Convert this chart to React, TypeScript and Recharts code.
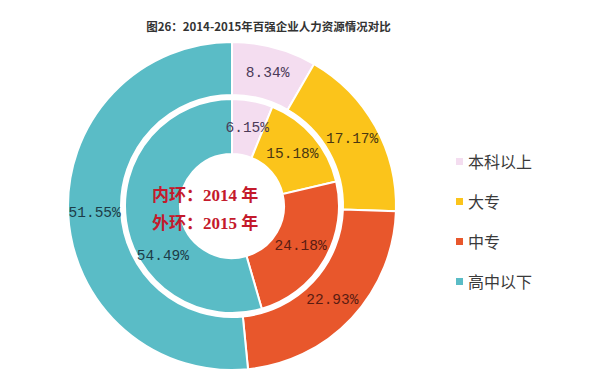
import { PieChart, Pie, Cell, Legend } from "recharts";

const categories = ["本科以上", "大专", "中专", "高中以下"];
const values2014 = [6.15, 15.18, 24.18, 54.49];
const values2015 = [8.34, 17.17, 22.93, 51.55];

const COLORS = ["#F4DDF0", "#FBC41B", "#E8572C", "#5ABCC6"];
const LABEL_COLORS = ["#4b3a58", "#4a3812", "#5a1c12", "#1d3c48"];
const RAD = Math.PI / 180;

const innerData = categories.map((name, i) => ({ name, value: values2014[i] }));
const outerData = categories.map((name, i) => ({ name, value: values2015[i] }));

// the big inner slice has its label pushed down, away from the centre text
const innerLabelNudge = [0, 0, 0, 28];

const makeLabel = (nudge: number[]) => (props: any) => {
  const { cx, cy, innerRadius, outerRadius, midAngle, index, value } = props;
  const r = (innerRadius + outerRadius) / 2 + (nudge[index] ? 6 : 0);
  const a = (midAngle + nudge[index]) * RAD;
  const x = cx + r * Math.cos(-a);
  const y = cy + r * Math.sin(-a);
  return (
    <text
      x={x}
      y={y}
      textAnchor="middle"
      dominantBaseline="central"
      fontFamily="'Liberation Mono', monospace"
      fontSize={14.5}
      fill={LABEL_COLORS[index]}
    >
      {value.toFixed(2)}%
    </text>
  );
};

const renderLegend = () => (
  <div style={{ display: "flex", flexDirection: "column", gap: 20 }}>
    {categories.map((c, i) => (
      <div key={c} style={{ display: "flex", alignItems: "center", height: 20 }}>
        <div style={{ width: 7, height: 7, background: COLORS[i], marginRight: 5 }} />
        <span style={{ fontFamily: "'Noto Sans CJK SC', sans-serif", fontSize: 16, color: "#3a3a3a" }}>{c}</span>
      </div>
    ))}
  </div>
);

const centerText = {
  position: "absolute" as const,
  left: 152,
  fontFamily: "'Liberation Serif', 'Noto Sans CJK SC', serif",
  fontWeight: 700,
  fontSize: 17,
  color: "#C41A2C",
  lineHeight: "20px",
  whiteSpace: "nowrap" as const,
};

export default function App() {
  return (
    <div style={{ position: "absolute", left: 0, top: 0, width: 590, height: 392, background: "#fff" }}>
      <div
        style={{
          position: "absolute",
          top: 18,
          left: 0,
          width: 537,
          textAlign: "center",
          fontFamily: "'Noto Sans CJK SC', sans-serif",
          fontWeight: 700,
          fontSize: 11.5,
          color: "#333",
        }}
      >
        图26：2014-2015年百强企业人力资源情况对比
      </div>
      <PieChart width={590} height={392} margin={{ top: 0, right: 0, bottom: 0, left: 0 }}>
        <Pie
          data={outerData}
          dataKey="value"
          cx={232}
          cy={206}
          innerRadius={111}
          outerRadius={164}
          startAngle={90}
          endAngle={-270}
          stroke="#fff"
          strokeWidth={2}
          label={makeLabel([0, 0, 0, 0])}
          labelLine={false}
          isAnimationActive={false}
        >
          {outerData.map((d, i) => (
            <Cell key={d.name} fill={COLORS[i]} />
          ))}
        </Pie>
        <Pie
          data={innerData}
          dataKey="value"
          cx={232}
          cy={206}
          innerRadius={52}
          outerRadius={107}
          startAngle={90}
          endAngle={-270}
          stroke="#fff"
          strokeWidth={2}
          label={makeLabel(innerLabelNudge)}
          labelLine={false}
          isAnimationActive={false}
        >
          {innerData.map((d, i) => (
            <Cell key={d.name} fill={COLORS[i]} />
          ))}
        </Pie>
        <Legend
          layout="vertical"
          align="right"
          verticalAlign="top"
          content={renderLegend}
          wrapperStyle={{ left: 456, top: 151, width: 130 }}
        />
      </PieChart>
      <div style={{ ...centerText, top: 186 }}>内环：2014 年</div>
      <div style={{ ...centerText, top: 214 }}>外环：2015 年</div>
    </div>
  );
}
